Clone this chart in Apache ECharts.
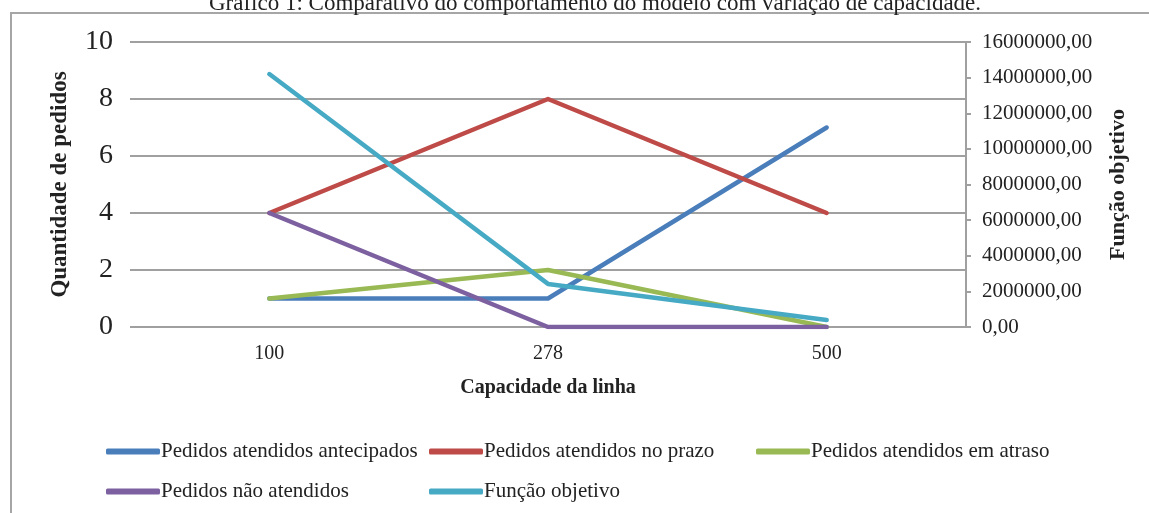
<!DOCTYPE html>
<html><head><meta charset="utf-8">
<script src="https://cdn.jsdelivr.net/npm/echarts@6/dist/echarts.min.js"></script>
<style>html,body{margin:0;padding:0;background:#fff}#c{width:1149px;height:513px}</style>
</head><body><div id="c"></div>
<script>
const categories = ['100', '278', '500'];
const antecipados = [1, 1, 7];
const noPrazo = [4, 8, 4];
const emAtraso = [1, 2, 0];
const naoAtendidos = [4, 0, 0];
const funcaoObjetivo = [14200000, 2420000, 390000];
const leftTicks = [0, 10, 2];
const rightTicks = [0, 16000000, 2000000];

const names = ['Pedidos atendidos antecipados', 'Pedidos atendidos no prazo', 'Pedidos atendidos em atraso', 'Pedidos não atendidos', 'Função objetivo'];
const colors = ['#4A7EBB', '#BE4B48', '#98B954', '#7D60A0', '#46AAC5'];
const serif = '"Liberation Serif", "DejaVu Serif", serif';

const chart = echarts.init(document.getElementById('c'));
const legendPos = [[106, 441], [429, 441], [756, 441], [106, 481], [429, 481]];
const legends = names.map((n, i) => ({
  data: [{name: n, icon: 'roundRect'}],
  left: legendPos[i][0], top: legendPos[i][1], padding: 0,
  itemWidth: 54, itemHeight: 6, itemGap: 0,
  textStyle: {fontFamily: serif, fontSize: 21, color: '#222', padding: [0, 0, 0, -4]}
}));
function mk(i, data, yi) {
  return {name: names[i], type: 'line', data: data, yAxisIndex: yi, symbol: 'none',
    lineStyle: {width: 4.5, color: colors[i], cap: 'round', join: 'round'},
    itemStyle: {color: colors[i]}};
}
chart.setOption({
  animation: false,
  title: {text: 'Gráfico 1: Comparativo do comportamento do modelo com variação de capacidade.',
    left: 590, textAlign: 'center', top: -13,
    textStyle: {fontFamily: serif, fontSize: 23, fontWeight: 'normal', color: '#222'}},
  graphic: [{type: 'rect', shape: {x: 11, y: 13, width: 1300, height: 600},
    style: {fill: null, stroke: '#a6a6a6', lineWidth: 2}, z: -1}],
  legend: legends,
  grid: {left: 130, right: 183, top: 42, bottom: 186},
  xAxis: {type: 'category', data: categories, boundaryGap: true,
    axisLine: {show: false}, axisTick: {show: false},
    axisLabel: {fontFamily: serif, fontSize: 20, color: '#222', margin: 17},
    name: 'Capacidade da linha', nameLocation: 'middle', nameGap: 51,
    nameTextStyle: {fontFamily: serif, fontSize: 20, fontWeight: 'bold', color: '#222'}},
  yAxis: [
    {type: 'value', min: leftTicks[0], max: leftTicks[1], interval: leftTicks[2],
      axisLine: {show: false}, axisTick: {show: false},
      splitLine: {lineStyle: {color: '#a0a0a0', width: 2}},
      axisLabel: {fontFamily: serif, fontSize: 28, color: '#222', margin: 17},
      name: 'Quantidade de pedidos', nameLocation: 'middle', nameGap: 58, nameRotate: 90,
      nameTextStyle: {fontFamily: serif, fontSize: 23, fontWeight: 'bold', color: '#222'}},
    {type: 'value', min: rightTicks[0], max: rightTicks[1], interval: rightTicks[2], position: 'right',
      axisLine: {show: true, lineStyle: {color: '#a0a0a0', width: 2}},
      axisTick: {show: true, length: 5, lineStyle: {color: '#a0a0a0', width: 2}},
      splitLine: {show: false},
      axisLabel: {fontFamily: serif, fontSize: 21, color: '#222', margin: 16,
        formatter: v => v.toFixed(2).replace('.', ',')},
      name: 'Função objetivo', nameLocation: 'middle', nameGap: 141, nameRotate: 90,
      nameTextStyle: {fontFamily: serif, fontSize: 22, fontWeight: 'bold', color: '#222'}}
  ],
  series: [mk(0, antecipados, 0), mk(1, noPrazo, 0), mk(2, emAtraso, 0), mk(3, naoAtendidos, 0), mk(4, funcaoObjetivo, 1)]
});
</script></body></html>
